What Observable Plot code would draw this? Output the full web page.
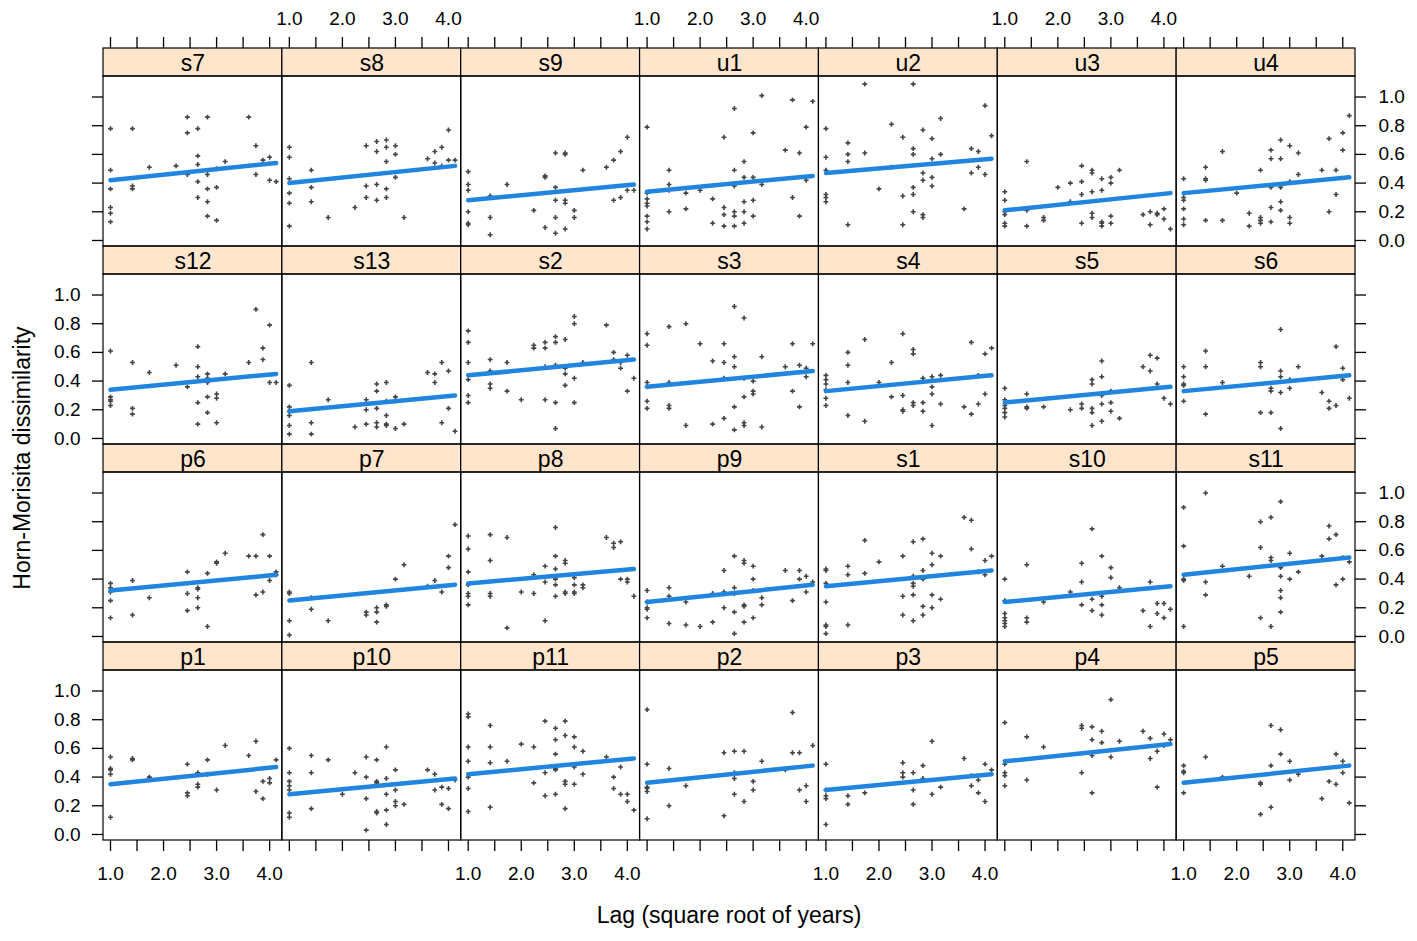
<!DOCTYPE html>
<html><head><meta charset="utf-8">
<script src="https://cdn.jsdelivr.net/npm/d3@7"></script>
<script src="https://cdn.jsdelivr.net/npm/@observablehq/plot@0.6"></script>
<style>
body{margin:0;background:#fff;}
#wrap{position:relative;width:1417px;height:941px;font-family:"Liberation Sans",Arial,sans-serif;}
.ttl{position:absolute;font-size:23px;color:#000;white-space:nowrap;line-height:1;}
</style></head><body><div id="wrap"></div>
<script>
// ---- data: [lag in years, Horn-Morisita dissimilarity] ----
const s7=[[1,.78],[1,.49],[1,.36],[1,.23],[1,.19],[1,.13],[2,.78],[2,.38],[2,.36],[3,.51],[5,.52],[6,.86],[6,.75],[6,.46],[7,.78],[7,.59],[7,.53],[7,.41],[7,.30],[8,.86],[8,.46],[8,.36],[8,.27],[8,.17],[9,.50],[9,.37],[9,.14],[10,.55],[13,.86],[14,.66],[14,.46],[15,.56],[16,.58],[16,.42],[17,.41]];
const s8=[[1,.65],[1,.58],[1,.43],[1,.33],[1,.26],[1,.10],[2,.49],[2,.37],[2,.27],[3,.16],[5,.23],[6,.66],[6,.38],[6,.30],[7,.69],[7,.62],[7,.39],[7,.28],[8,.70],[8,.65],[8,.55],[8,.36],[8,.30],[9,.66],[9,.60],[9,.44],[10,.16],[13,.57],[14,.62],[14,.54],[15,.65],[15,.52],[16,.77],[16,.56],[17,.56]];
const s9=[[1,.48],[1,.39],[1,.35],[1,.20],[1,.12],[1,.11],[2,.31],[2,.16],[2,.04],[3,.39],[5,.21],[6,.45],[6,.44],[6,.09],[7,.61],[7,.37],[7,.28],[7,.16],[7,.05],[8,.61],[8,.60],[8,.28],[8,.26],[8,.08],[9,.21],[9,.16],[10,.49],[13,.51],[14,.56],[14,.28],[15,.62],[15,.30],[16,.72],[16,.35],[17,.35]];
const u1=[[1,.79],[1,.33],[1,.29],[1,.26],[1,.24],[1,.17],[1,.13],[1,.08],[2,.49],[2,.39],[2,.35],[2,.20],[3,.33],[3,.22],[4,.35],[5,.29],[5,.12],[6,.72],[6,.23],[6,.18],[6,.10],[7,.92],[7,.49],[7,.38],[7,.20],[7,.17],[7,.10],[8,.55],[8,.44],[8,.27],[8,.20],[8,.12],[9,.75],[9,.44],[9,.28],[9,.17],[10,1.01],[10,.39],[13,.63],[14,.98],[14,.30],[15,.61],[15,.17],[16,.79],[16,.42],[17,.97]];
const u2=[[1,.78],[1,.58],[1,.49],[1,.32],[1,.30],[1,.27],[2,.68],[2,.60],[2,.55],[2,.11],[3,1.09],[3,.61],[4,.36],[5,.81],[5,.51],[6,.72],[6,.31],[6,.11],[7,1.09],[7,.64],[7,.60],[7,.37],[7,.32],[7,.20],[8,.77],[8,.47],[8,.42],[8,.18],[8,.16],[9,.71],[9,.57],[9,.44],[9,.38],[10,.85],[10,.60],[13,.22],[14,.64],[14,.47],[15,.62],[15,.51],[16,.94],[16,.46],[17,.73]];
const u3=[[1,.34],[1,.28],[1,.20],[1,.18],[1,.12],[1,.10],[2,.55],[2,.21],[2,.10],[3,.16],[3,.14],[4,.37],[5,.40],[5,.27],[6,.52],[6,.41],[6,.32],[6,.12],[7,.49],[7,.47],[7,.34],[7,.19],[7,.16],[8,.43],[8,.35],[8,.13],[8,.12],[8,.10],[9,.44],[9,.40],[9,.17],[9,.12],[10,.49],[13,.18],[14,.20],[14,.11],[15,.19],[15,.18],[16,.22],[16,.15],[17,.08]];
const u4=[[1,.43],[1,.30],[1,.28],[1,.22],[1,.15],[1,.11],[2,.51],[2,.43],[2,.42],[2,.14],[3,.62],[3,.14],[4,.33],[5,.19],[5,.10],[6,.49],[6,.16],[6,.14],[6,.12],[7,.63],[7,.57],[7,.37],[7,.23],[7,.13],[8,.70],[8,.57],[8,.37],[8,.27],[8,.21],[9,.66],[9,.41],[9,.16],[9,.12],[10,.61],[10,.46],[13,.49],[14,.71],[14,.20],[15,.49],[15,.32],[16,.75],[16,.63],[17,.87]];
const s12=[[1,.61],[1,.29],[1,.27],[1,.26],[1,.23],[2,.53],[2,.21],[2,.17],[3,.46],[5,.51],[6,.36],[7,.64],[7,.50],[7,.43],[7,.25],[7,.10],[8,.45],[8,.42],[8,.39],[8,.29],[8,.18],[9,.31],[9,.28],[9,.11],[10,.45],[13,.53],[14,.90],[15,.63],[15,.55],[16,.79],[16,.39],[17,.39]];
const s13=[[1,.37],[1,.22],[1,.19],[1,.16],[1,.09],[1,.03],[2,.53],[2,.11],[2,.03],[3,.27],[5,.08],[6,.27],[6,.20],[6,.10],[7,.38],[7,.33],[7,.21],[7,.11],[7,.08],[8,.39],[8,.26],[8,.16],[8,.10],[8,.09],[9,.29],[9,.26],[9,.07],[10,.10],[13,.46],[14,.45],[14,.39],[15,.53],[15,.11],[16,.47],[16,.21],[17,.05]];
const s2=[[1,.75],[1,.67],[1,.53],[1,.41],[1,.30],[1,.25],[2,.55],[2,.47],[2,.38],[2,.35],[3,.53],[3,.33],[4,.27],[5,.65],[5,.63],[6,.67],[6,.63],[6,.50],[6,.27],[7,.71],[7,.67],[7,.51],[7,.25],[7,.07],[8,.69],[8,.49],[8,.45],[8,.37],[9,.85],[9,.80],[9,.42],[9,.25],[10,.53],[13,.79],[14,.60],[14,.55],[15,.53],[15,.49],[16,.58],[16,.33],[17,.42]];
const s3=[[1,.73],[1,.65],[1,.39],[1,.36],[1,.26],[1,.21],[2,.78],[2,.39],[2,.23],[2,.21],[3,.80],[3,.09],[4,.66],[5,.54],[5,.10],[6,.66],[6,.53],[6,.42],[6,.14],[7,.92],[7,.57],[7,.50],[7,.22],[7,.06],[8,.84],[8,.42],[8,.29],[8,.11],[8,.09],[9,.40],[9,.33],[9,.31],[10,.57],[10,.08],[13,.50],[14,.66],[14,.33],[15,.51],[15,.22],[16,.49],[16,.43],[17,.66]];
const s4=[[1,.44],[1,.41],[1,.38],[1,.34],[1,.28],[1,.23],[2,.60],[2,.51],[2,.39],[2,.16],[3,.69],[3,.12],[4,.39],[5,.53],[5,.29],[6,.73],[6,.30],[6,.20],[6,.19],[7,.62],[7,.59],[7,.25],[7,.23],[8,.42],[8,.40],[8,.25],[8,.19],[9,.43],[9,.36],[9,.31],[9,.09],[10,.44],[10,.24],[13,.22],[14,.67],[14,.17],[15,.44],[15,.24],[16,.59],[16,.31],[17,.63]];
const s5=[[1,.35],[1,.27],[1,.23],[1,.21],[1,.18],[1,.15],[2,.31],[2,.22],[2,.21],[3,.22],[5,.20],[6,.24],[6,.21],[7,.41],[7,.38],[7,.21],[7,.18],[7,.09],[8,.54],[8,.43],[8,.30],[8,.24],[8,.12],[9,.33],[9,.25],[9,.19],[10,.14],[13,.50],[14,.58],[14,.47],[15,.56],[15,.38],[16,.28],[17,.24]];
const s6=[[1,.50],[1,.43],[1,.38],[1,.37],[1,.26],[2,.61],[2,.50],[2,.17],[3,.39],[6,.53],[6,.50],[6,.18],[7,.35],[7,.33],[7,.18],[8,.76],[8,.47],[8,.43],[8,.32],[8,.07],[9,.41],[9,.35],[10,.50],[13,.32],[14,.26],[14,.21],[15,.64],[15,.23],[16,.49],[16,.41],[17,.28]];
const p6=[[1,.37],[1,.34],[1,.31],[1,.25],[1,.13],[2,.39],[2,.15],[3,.27],[6,.45],[6,.30],[6,.18],[7,.34],[7,.33],[7,.27],[7,.20],[8,.44],[8,.07],[9,.52],[9,.51],[10,.58],[13,.56],[14,.56],[14,.29],[15,.71],[15,.31],[16,.56],[16,.39],[17,.45],[17,.43]];
const p7=[[1,.31],[1,.30],[1,.11],[1,.01],[2,.27],[2,.19],[3,.11],[6,.17],[6,.15],[7,.20],[7,.17],[7,.10],[8,.22],[8,.21],[9,.40],[10,.50],[13,.35],[14,.39],[15,.31],[16,.56],[16,.48],[17,.78]];
const p8=[[1,.70],[1,.61],[1,.45],[1,.36],[1,.30],[1,.28],[1,.22],[2,.71],[2,.53],[2,.30],[2,.28],[3,.69],[3,.06],[4,.31],[5,.43],[5,.30],[6,.49],[6,.38],[6,.11],[7,.76],[7,.56],[7,.47],[7,.40],[7,.36],[7,.28],[8,.53],[8,.51],[8,.31],[8,.30],[9,.41],[9,.36],[9,.31],[9,.30],[10,.36],[10,.34],[13,.69],[14,.65],[14,.62],[15,.66],[15,.40],[16,.40],[16,.38],[17,.28]];
const p9=[[1,.32],[1,.24],[1,.20],[1,.19],[1,.13],[2,.34],[2,.28],[2,.09],[3,.24],[3,.08],[4,.07],[5,.30],[5,.10],[6,.46],[6,.31],[6,.20],[7,.56],[7,.34],[7,.30],[7,.17],[7,.02],[8,.53],[8,.51],[8,.22],[8,.21],[8,.10],[9,.49],[9,.40],[9,.32],[9,.13],[10,.27],[10,.22],[13,.46],[14,.25],[15,.46],[15,.40],[16,.42],[16,.31],[17,.38]];
const s1=[[1,.47],[1,.46],[1,.37],[1,.24],[1,.08],[1,.07],[1,.02],[2,.49],[2,.43],[2,.08],[3,.67],[3,.44],[4,.52],[6,.56],[6,.28],[6,.15],[7,.66],[7,.42],[7,.37],[7,.35],[7,.29],[7,.11],[8,.68],[8,.46],[8,.40],[8,.21],[8,.15],[9,.58],[9,.50],[9,.29],[9,.20],[10,.56],[10,.26],[13,.83],[14,.81],[14,.61],[15,.45],[16,.53],[16,.43],[17,.56]];
const s10=[[1,.40],[1,.25],[1,.16],[1,.13],[1,.11],[1,.09],[1,.07],[2,.50],[2,.13],[2,.10],[3,.24],[5,.31],[6,.51],[6,.38],[6,.22],[7,.75],[7,.26],[7,.18],[8,.56],[8,.30],[8,.28],[8,.22],[8,.15],[9,.48],[9,.41],[10,.34],[13,.18],[14,.38],[14,.07],[15,.23],[15,.16],[16,.23],[16,.13],[17,.19]];
const s11=[[1,.90],[1,.63],[1,.40],[1,.39],[1,.07],[2,1.00],[2,.38],[2,.29],[3,.49],[5,.42],[6,.80],[6,.62],[6,.13],[7,.83],[7,.55],[7,.53],[7,.07],[8,.94],[8,.48],[8,.42],[8,.32],[8,.27],[8,.17],[9,.58],[9,.40],[10,.45],[13,.56],[14,.77],[14,.68],[15,.71],[15,.36],[16,.55],[16,.40],[17,.52]];
const p1=[[1,.54],[1,.46],[1,.45],[1,.42],[1,.12],[2,.53],[2,.52],[3,.40],[6,.49],[6,.29],[6,.27],[7,.43],[7,.35],[7,.33],[8,.52],[8,.42],[9,.31],[10,.62],[13,.55],[14,.65],[14,.30],[15,.37],[15,.25],[16,.39],[16,.36],[17,.52]];
const p10=[[1,.60],[1,.43],[1,.37],[1,.34],[1,.31],[1,.15],[1,.12],[2,.55],[2,.43],[2,.18],[3,.52],[4,.28],[5,.43],[6,.54],[6,.40],[6,.25],[6,.03],[7,.52],[7,.37],[7,.36],[7,.16],[7,.15],[8,.61],[8,.39],[8,.28],[8,.17],[8,.07],[9,.45],[9,.31],[9,.23],[9,.20],[10,.21],[13,.45],[14,.42],[14,.31],[15,.33],[15,.21],[16,.32],[16,.18],[17,.38]];
const p11=[[1,.84],[1,.82],[1,.61],[1,.51],[1,.40],[1,.32],[1,.16],[2,.76],[2,.61],[2,.50],[2,.19],[3,.51],[4,.63],[5,.61],[5,.36],[6,.79],[6,.43],[6,.27],[7,.74],[7,.66],[7,.56],[7,.46],[7,.45],[7,.28],[8,.79],[8,.69],[8,.37],[8,.35],[8,.18],[9,.68],[9,.61],[9,.47],[9,.35],[10,.58],[10,.42],[13,.54],[14,.40],[14,.32],[15,.47],[15,.28],[16,.28],[16,.23],[17,.17]];
const p2=[[1,.87],[1,.49],[1,.33],[1,.32],[1,.30],[1,.11],[2,.46],[2,.20],[3,.34],[6,.57],[6,.13],[7,.58],[7,.43],[7,.39],[7,.28],[8,.58],[8,.23],[9,.37],[9,.31],[10,.51],[13,.45],[14,.85],[14,.57],[15,.57],[15,.31],[16,.34],[16,.23],[17,.62]];
const p3=[[1,.49],[1,.31],[1,.27],[1,.25],[1,.07],[2,.27],[2,.21],[3,.29],[6,.50],[6,.43],[6,.40],[7,.43],[7,.31],[7,.21],[8,.48],[8,.39],[9,.65],[9,.28],[10,.33],[13,.53],[14,.41],[14,.34],[15,.38],[15,.29],[16,.49],[16,.23],[17,.45]];
const p4=[[1,.78],[1,.49],[1,.43],[1,.41],[1,.34],[2,.68],[2,.38],[3,.61],[6,.76],[6,.74],[6,.43],[7,.75],[7,.66],[7,.55],[7,.29],[8,.72],[8,.64],[9,.94],[9,.54],[10,.65],[13,.72],[14,.67],[14,.53],[15,.58],[15,.33],[16,.70],[16,.62],[17,.66]];
const p5=[[1,.48],[1,.44],[1,.43],[1,.29],[2,.54],[3,.40],[6,.36],[6,.35],[6,.14],[7,.76],[7,.48],[7,.19],[8,.73],[8,.56],[9,.51],[9,.38],[10,.42],[13,.25],[14,.37],[15,.56],[15,.35],[16,.51],[16,.43],[17,.22]];

// panels in lattice order (row by row, top to bottom)
const panelNames=["s7","s8","s9","u1","u2","u3","u4","s12","s13","s2","s3","s4","s5","s6","p6","p7","p8","p9","s1","s10","s11","p1","p10","p11","p2","p3","p4","p5"];
const panelPoints=[s7,s8,s9,u1,u2,u3,u4,s12,s13,s2,s3,s4,s5,s6,p6,p7,p8,p9,s1,s10,s11,p1,p10,p11,p2,p3,p4,p5];
// fitted line: value at lag 1 and at lag 17
const fitStart=[.42,.40,.28,.34,.47,.21,.33,.34,.19,.44,.36,.33,.25,.33,.32,.25,.37,.24,.35,.24,.43,.35,.28,.42,.36,.31,.51,.36];
const fitEnd  =[.54,.52,.39,.45,.57,.33,.44,.45,.30,.55,.47,.44,.36,.44,.43,.36,.47,.36,.46,.35,.55,.47,.39,.53,.48,.42,.63,.48];
const lagRange=[1,17];
const xTicks=[1,1.5,2,2.5,3,3.5,4];
const xLabels=[1,2,3,4];
const yTicks=[0,0.2,0.4,0.6,0.8,1.0];

// ---- layout ----
const W=1417,H=941,mL=103,mR=62,mT=76,mB=101;
const NC=7,NR=4,stripH=28,panelH=170,stepH=panelH+stripH;
const xDom=[0.868,4.24], yDom=[-0.042,1.143];
const colW=(W-mL-mR)/NC;
const pxX=colW/(xDom[1]-xDom[0]), pxY=panelH/(yDom[1]-yDom[0]);
const tickLen=11;
const yStripTop=yDom[1]+stripH/pxY;
const yStripMid=yDom[1]+stripH/2/pxY;
const xMid=(xDom[0]+xDom[1])/2;
const F='"Liberation Sans",Arial,sans-serif';

const pts=panelPoints.flatMap((arr,i)=>arr.map(([lag,v])=>({col:i%NC,row:Math.floor(i/NC),x:Math.sqrt(lag),y:v})));
const panels=panelNames.map((name,i)=>({name,col:i%NC,row:Math.floor(i/NC),f1:fitStart[i],f2:fitEnd[i]}));
const cols=d3.range(NC), rows=d3.range(NR);
const bottomTicks=cols.flatMap(c=>xTicks.map(t=>({col:c,row:NR-1,t})));
const topTicks=cols.flatMap(c=>xTicks.map(t=>({col:c,row:0,t})));
const bottomLabels=cols.filter(c=>c%2===0).flatMap(c=>xLabels.map(t=>({col:c,row:NR-1,t})));
const topLabels=cols.filter(c=>c%2===1).flatMap(c=>xLabels.map(t=>({col:c,row:0,t})));
const leftTicks=rows.flatMap(r=>yTicks.map(t=>({col:0,row:r,t})));
const rightTicks=rows.flatMap(r=>yTicks.map(t=>({col:NC-1,row:r,t})));
const leftLabels=rows.filter(r=>r%2===1).flatMap(r=>yTicks.map(t=>({col:0,row:r,t})));
const rightLabels=rows.filter(r=>r%2===0).flatMap(r=>yTicks.map(t=>({col:NC-1,row:r,t})));

const fmt=d3.format(".1f");
const chart=Plot.plot({
  width:W,height:H,marginLeft:mL,marginRight:mR,marginTop:mT,marginBottom:mB,
  style:{fontFamily:F,background:"#fff",overflow:"visible"},
  fx:{domain:cols,paddingInner:0,paddingOuter:0,round:false,axis:null},
  fy:{domain:rows,paddingInner:stripH/stepH,paddingOuter:0,round:false,axis:null},
  x:{domain:xDom,axis:null},
  y:{domain:yDom,axis:null},
  marks:[
    // strips
    Plot.rect(panels,{fx:"col",fy:"row",x1:xDom[0],x2:xDom[1],y1:yDom[1],y2:yStripTop,fill:"#ffe5cc",stroke:"#000",strokeWidth:1.2}),
    Plot.text(panels,{fx:"col",fy:"row",x:xMid,y:yStripMid,text:"name",fontSize:23,fill:"#000",lineAnchor:"middle",dy:1}),
    // panel frames
    Plot.rect(panels,{fx:"col",fy:"row",x1:xDom[0],x2:xDom[1],y1:yDom[0],y2:yDom[1],fill:"none",stroke:"#000",strokeWidth:1.2}),
    // points (small plus signs)
    Plot.dot(pts,{fx:"col",fy:"row",x:"x",y:"y",symbol:"plus",r:1.7,stroke:"#444",strokeWidth:1.6,fill:"none"}),
    // fitted lines
    Plot.link(panels,{fx:"col",fy:"row",x1:Math.sqrt(lagRange[0]),x2:Math.sqrt(lagRange[1]),y1:"f1",y2:"f2",stroke:"#1f85df",strokeWidth:4.5,strokeLinecap:"round"}),
    // x ticks
    Plot.ruleX(bottomTicks,{fx:"col",fy:"row",x:"t",y1:yDom[0],y2:yDom[0]-tickLen/pxY,stroke:"#000",strokeWidth:1.3}),
    Plot.ruleX(topTicks,{fx:"col",fy:"row",x:"t",y1:yStripTop,y2:yStripTop+tickLen/pxY,stroke:"#000",strokeWidth:1.3}),
    Plot.text(bottomLabels,{fx:"col",fy:"row",x:"t",y:yDom[0],text:d=>fmt(d.t),dy:33,fontSize:19,fill:"#000",lineAnchor:"middle"}),
    Plot.text(topLabels,{fx:"col",fy:"row",x:"t",y:yStripTop,text:d=>fmt(d.t),dy:-30,fontSize:19,fill:"#000",lineAnchor:"middle"}),
    // y ticks
    Plot.ruleY(leftTicks,{fx:"col",fy:"row",y:"t",x1:xDom[0],x2:xDom[0]-tickLen/pxX,stroke:"#000",strokeWidth:1.3}),
    Plot.ruleY(rightTicks,{fx:"col",fy:"row",y:"t",x1:xDom[1],x2:xDom[1]+tickLen/pxX,stroke:"#000",strokeWidth:1.3}),
    Plot.text(leftLabels,{fx:"col",fy:"row",x:xDom[0],y:"t",text:d=>fmt(d.t),dx:-23,textAnchor:"end",fontSize:19,fill:"#000",lineAnchor:"middle"}),
    Plot.text(rightLabels,{fx:"col",fy:"row",x:xDom[1],y:"t",text:d=>fmt(d.t),dx:23,textAnchor:"start",fontSize:19,fill:"#000",lineAnchor:"middle"})
  ]
});
const wrap=document.getElementById("wrap");
wrap.appendChild(chart);
const xt=document.createElement("div");
xt.className="ttl";xt.textContent="Lag (square root of years)";
xt.style.left=(mL+colW*NC/2)+"px";xt.style.top="904px";xt.style.transform="translateX(-50%)";
wrap.appendChild(xt);
const yt=document.createElement("div");
yt.className="ttl";yt.textContent="Horn-Morisita dissimilarity";
yt.style.left="22px";yt.style.top="458px";
yt.style.transform="translate(-50%,-50%) rotate(-90deg)";
wrap.appendChild(yt);
</script></body></html>
